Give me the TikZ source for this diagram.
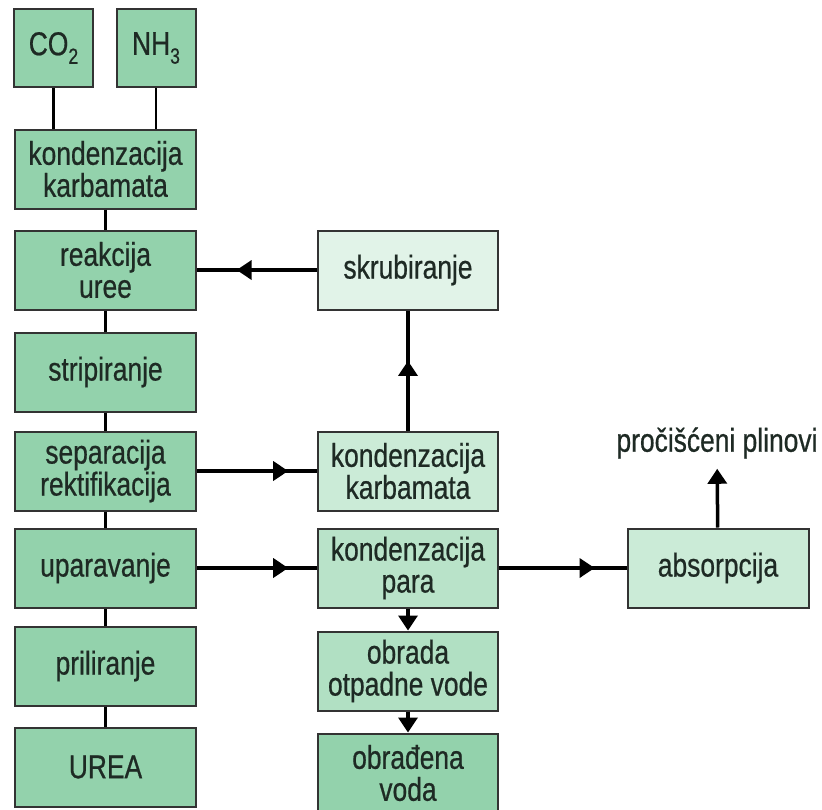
\documentclass[tikz,border=0pt]{standalone}
\usepackage{fontspec}
\setmainfont{Liberation Sans}[FakeStretch=0.8, FakeBold=0.6]
\definecolor{Mid}{HTML}{93D2AC}
\definecolor{Pale}{HTML}{E1F3E8}
\definecolor{Light}{HTML}{CBEBD7}
\definecolor{Soft}{HTML}{B9E3C9}
\definecolor{Ink}{HTML}{1E2A24}
\usetikzlibrary{arrows.meta,decorations.markings}
\newcommand{\chemsub}[1]{\raisebox{-.5ex}{\fontsize{22pt}{22pt}\selectfont #1}}

\begin{document}
\begin{tikzpicture}
    [x=1pt, y=-1pt,
    every node/.style={font=\fontsize{33pt}{32pt}\selectfont, text=Ink, align=center},
    stage/.style={draw=black!80, line width=2pt, fill=Mid, minimum width=181pt, minimum height=79pt, inner sep=0pt},
    feed/.style={stage, minimum width=79pt, minimum height=78pt},
    side/.style={stage, minimum width=180pt},
    link/.style={line width=2.2pt},
    flow/.style={line width=3.5pt},
    tip/.style={-{Triangle[length=15pt,width=19pt]}},
    midtip/.style={postaction={decorate}, decoration={markings,
        mark=at position #1 with {\arrow{Triangle[length=15pt,width=19pt]}}}}]

    \useasboundingbox[fill=white] (0,0) rectangle (822,809);

    % glavna linija
    \node [feed] (co2) at (53.5,48) {CO\chemsub{2}};
    \node [feed] (nh3) at (156,48) {NH\chemsub{3}};
    \node [stage] (kond) at (105.5,169) {kondenzacija\\karbamata};
    \node [stage] (reak) at (105.5,270) {reakcija\\uree};
    \node [stage] (strip) at (105.5,372) {stripiranje};
    \node [stage] (sep) at (105.5,471) {separacija\\rektifikacija};
    \node [stage] (upar) at (105.5,568) {uparavanje};
    \node [stage] (pril) at (105.5,666) {priliranje};
    \node [stage] (urea) at (105.5,767) {UREA};

    % sporedna linija
    \node [side, fill=Pale] (skrub) at (408,270) {skrubiranje};
    \node [side, fill=Light] (kondk) at (408,471) {kondenzacija\\karbamata};
    \node [side, fill=Soft] (kondp) at (408,568) {kondenzacija\\para};
    \node [side, fill=Soft!80!Mid] (obrada) at (408,671) {obrada\\otpadne vode};
    \node [side, fill=Mid] (voda) at (408,773) {obrađena\\voda};
    \node [stage, fill=Light] (abs) at (718,568) {absorpcija};
    \node [inner sep=2pt] (plin) at (717,443) {pročišćeni plinovi};

    \draw [link] (co2) -- (co2 |- kond.north);
    \draw [link] (nh3) -- (nh3 |- kond.north);
    \foreach \a/\b in {kond/reak, reak/strip, strip/sep, sep/upar, upar/pril, pril/urea}
        \draw [link] (\a) -- (\b);

    \draw [flow, midtip=0.67] (skrub) -- (reak);
    \draw [flow, midtip=0.76] (sep) -- (kondk);
    \draw [flow, midtip=0.76] (upar) -- (kondp);
    \draw [flow, midtip=0.58] (kondk) -- (skrub);
    \draw [flow, midtip=0.75] (kondp) -- (abs);
    \draw [flow, tip] (kondp) -- (obrada);
    \draw [flow, tip] (obrada) -- (voda);
    \draw [flow, tip, shorten >=8pt] (abs) -- (plin);
\end{tikzpicture}
\end{document}
